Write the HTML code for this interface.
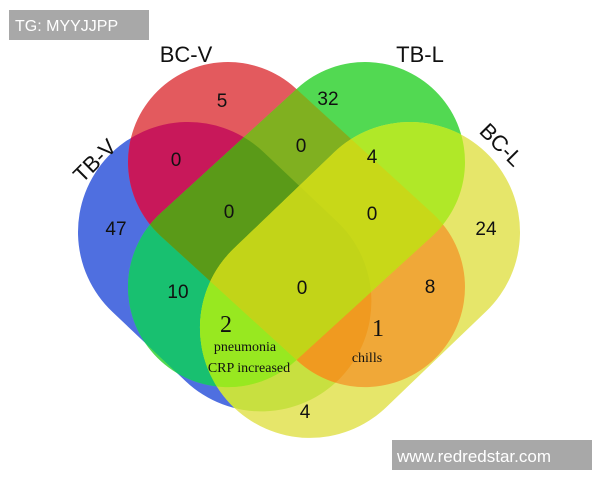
<!DOCTYPE html>
<html><head><meta charset="utf-8"><style>
html,body{margin:0;padding:0;background:#fff;width:600px;height:480px;overflow:hidden}
svg{display:block}
</style></head><body>
<svg width="600" height="480" viewBox="0 0 600 480" xmlns="http://www.w3.org/2000/svg" xmlns:xlink="http://www.w3.org/1999/xlink" font-family="Liberation Sans, sans-serif">
<defs>
<rect id="B" x="-110" y="-110" width="321" height="220" rx="110" transform="translate(188,232) rotate(43.4)"/>
<rect id="R" x="-100" y="-100" width="385.5" height="200" rx="100" transform="translate(228,162) rotate(42.4)"/>
<rect id="G" x="-100" y="-100" width="385.5" height="200" rx="100" transform="translate(365,162) rotate(137.6)"/>
<rect id="Y" x="-110" y="-110" width="358.6" height="220" rx="110" transform="translate(410,232) rotate(136.2)"/>
<clipPath id="cB"><use href="#B" xlink:href="#B"/></clipPath>
<clipPath id="cR"><use href="#R" xlink:href="#R"/></clipPath>
<clipPath id="cG"><use href="#G" xlink:href="#G"/></clipPath>
<clipPath id="cY"><use href="#Y" xlink:href="#Y"/></clipPath>
</defs>
<rect width="600" height="480" fill="#fff"/>
<use href="#B" xlink:href="#B" fill="#4f6fe0"/>
<use href="#R" xlink:href="#R" fill="#e35a5e"/>
<use href="#G" xlink:href="#G" fill="#52d952"/>
<use href="#Y" xlink:href="#Y" fill="#e6e66a"/>
<g clip-path="url(#cB)"><use href="#R" xlink:href="#R" fill="#c8185a"/></g>
<g clip-path="url(#cB)"><use href="#G" xlink:href="#G" fill="#18c070"/></g>
<g clip-path="url(#cB)"><use href="#Y" xlink:href="#Y" fill="#c8e040"/></g>
<g clip-path="url(#cR)"><use href="#G" xlink:href="#G" fill="#80b020"/></g>
<g clip-path="url(#cR)"><use href="#Y" xlink:href="#Y" fill="#f0a838"/></g>
<g clip-path="url(#cG)"><use href="#Y" xlink:href="#Y" fill="#b0e828"/></g>
<g clip-path="url(#cB)"><g clip-path="url(#cR)"><use href="#G" xlink:href="#G" fill="#5a9a18"/></g></g>
<g clip-path="url(#cB)"><g clip-path="url(#cR)"><use href="#Y" xlink:href="#Y" fill="#f09a20"/></g></g>
<g clip-path="url(#cB)"><g clip-path="url(#cG)"><use href="#Y" xlink:href="#Y" fill="#98e820"/></g></g>
<g clip-path="url(#cR)"><g clip-path="url(#cG)"><use href="#Y" xlink:href="#Y" fill="#c8d818"/></g></g>
<g clip-path="url(#cB)"><g clip-path="url(#cR)"><g clip-path="url(#cG)"><use href="#Y" xlink:href="#Y" fill="#c2d418"/></g></g></g>
<g font-size="22" fill="#111" text-anchor="middle">
<text x="186" y="62">BC-V</text>
<text x="420" y="62">TB-L</text>
<text x="0" y="0" transform="translate(100,166) rotate(-45)">TB-V</text>
<text x="0" y="0" transform="translate(496,150) rotate(45)">BC-L</text>
</g>
<g font-size="19" fill="#111" text-anchor="middle">
<text x="222" y="107">5</text>
<text x="328" y="105">32</text>
<text x="176" y="166">0</text>
<text x="301" y="152">0</text>
<text x="372" y="163">4</text>
<text x="116" y="235">47</text>
<text x="229" y="218">0</text>
<text x="372" y="220">0</text>
<text x="486" y="235">24</text>
<text x="178" y="298">10</text>
<text x="302" y="294">0</text>
<text x="430" y="293">8</text>
<text x="305" y="418">4</text>
</g>
<g font-family="Liberation Serif, serif" fill="#111" text-anchor="middle">
<text x="226" y="332" font-size="24">2</text>
<text x="378" y="336" font-size="24">1</text>
<text x="245" y="351" font-size="14">pneumonia</text>
<text x="249" y="372" font-size="14">CRP increased</text>
<text x="367" y="362" font-size="14">chills</text>
</g>
<rect x="9" y="10" width="140" height="30" fill="#a8a8a8"/>
<text x="15" y="31" font-size="16" fill="#fff">TG: MYYJJPP</text>
<rect x="392" y="440" width="200" height="30" fill="#a8a8a8"/>
<text x="397" y="462" font-size="17" fill="#fff">www.redredstar.com</text>
</svg>
</body></html>
